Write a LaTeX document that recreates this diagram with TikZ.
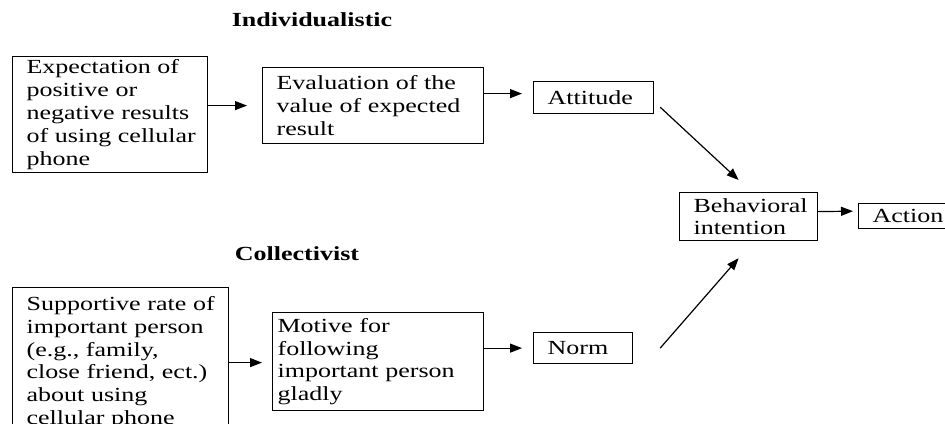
\documentclass[tikz,border=0pt]{standalone}
\usepackage{fontspec}
\setmainfont[FakeStretch=1.3]{Liberation Serif}
\usetikzlibrary{arrows.meta}

\begin{document}
\begin{tikzpicture}[x=5pt,y=-5pt]
	\tikzstyle{box_text} = [draw, line width=0.6pt, anchor=north west, inner sep=0pt, align=left, font=\fontsize{10}{11.4}\selectfont, execute at begin node={\leftskip=7pt}]
	\tikzstyle{title_text} = [font=\fontsize{10}{11.4}\selectfont\bfseries]
	\tikzstyle{arrow_line} = [line width=0.6pt, -{Triangle[length=6pt,width=4.5pt]}]

	\useasboundingbox (0,0) rectangle (94.5,42.3);

%------------------------------------------------------------
	\node[title_text] (ind) at (31.2,2.0) {Individualistic};

	\node[box_text, text width=97.5pt, minimum height=58pt] (expect) at (1.2,5.6) {Expectation of\\positive or\\negative results\\of using cellular\\phone};
	\node[box_text, text width=110.5pt, minimum height=38pt] (eval) at (26.2,6.7) {Evaluation of the\\value of expected\\result};
	\node[box_text, text width=60pt, minimum height=16pt] (attitude) at (53.3,8.1) {Attitude};

%------------------------------------------------------------

	\node[box_text, text width=69pt, minimum height=24pt] (behav) at (67.9,19.2) {Behavioral\\intention};
	\node[box_text, text width=50pt, minimum height=12.5pt] (action) at (85.8,20.3) {Action};

%------------------------------------------------------------

	\node[title_text] (col) at (29.7,25.4) {Collectivist};

	\node[box_text, text width=108pt, minimum height=75pt] (support) at (1.2,28.7) {Supportive rate of\\important person\\(e.g., family,\\close friend, ect.)\\about using\\cellular phone};
	\node[box_text, text width=105.5pt, minimum height=49pt, execute at begin node={\leftskip=2.5pt}] (motive) at (27.2,31.2) {Motive for\\following\\important person\\gladly};
	\node[box_text, text width=49.5pt, minimum height=15.5pt] (norm) at (53.3,33.2) {Norm};

%------------------------------------------------------------

	\draw[arrow_line, shorten >=7.5pt] (expect.east |- eval.west) -- (eval.west);
	\draw[arrow_line, shorten >=5.5pt] ([yshift=2pt]eval.east |- attitude.west) -- ([yshift=2pt]attitude.west);
	\draw[arrow_line] ([xshift=3pt,yshift=3.5pt]attitude.south east) -- ([xshift=-5pt,yshift=6pt]behav.north);
	\draw[arrow_line, shorten >=2.5pt] ([yshift=2.5pt]behav.east) -- ([yshift=2.5pt]action.west);

	\draw[arrow_line, shorten >=5pt] (support.east) -- (support.east -| motive.west);
	\draw[arrow_line, shorten >=5.5pt] (motive.east |- norm.west) -- (norm.west);
	\draw[arrow_line] ([xshift=13.5pt]norm.east) -- ([xshift=-5pt,yshift=-8.5pt]behav.south);

\end{tikzpicture}
\end{document}
